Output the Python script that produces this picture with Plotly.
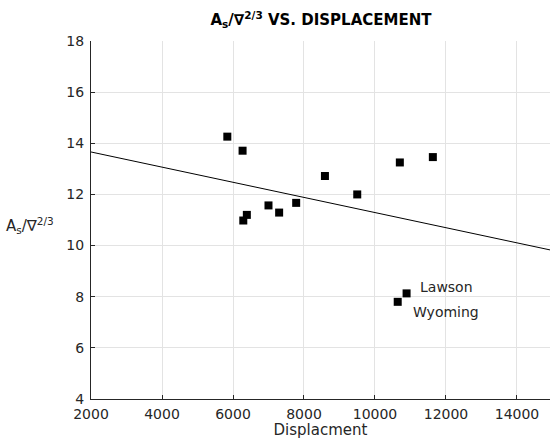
import plotly.graph_objects as go

# Ship displacement vs. wetted-surface coefficient
displacement = [5840, 6270, 6290, 6390, 7000, 7300, 7780, 8590, 9500, 10700, 11630, 10640, 10890]
surface_ratio = [14.26, 13.71, 10.98, 11.20, 11.57, 11.29, 11.67, 12.72, 12.00, 13.25, 13.46, 7.80, 8.13]

# Reference trend line
trend_x = [2000, 15000]
trend_y = [13.66, 9.81]

# Named ships (x, y, label)
named_x = [10890, 10640]
named_y = [8.13, 7.80]
named_text = ["Lawson", "Wyoming"]

x_ticks = [2000, 4000, 6000, 8000, 10000, 12000, 14000]
x_tick_labels = ["2000", "4000", "6000", "8000", "10000", "12000", "14000"]
y_ticks = [4, 6, 8, 10, 12, 14, 16, 18]

FONT = "DejaVu Sans"
INK = "#262626"
GRID = "#e3e3e3"

fig = go.Figure()
fig.add_trace(go.Scatter(x=trend_x, y=trend_y, mode="lines",
                         line=dict(color="black", width=1), showlegend=False))
fig.add_trace(go.Scatter(x=displacement, y=surface_ratio, mode="markers",
                         marker=dict(symbol="square", size=8, color="black"),
                         showlegend=False))

shifts = [(11, 6), (13, -10)]
for xv, yv, txt, (dx, dy) in zip(named_x, named_y, named_text, shifts):
    fig.add_annotation(x=xv, y=yv, text=txt, showarrow=False,
                       xanchor="left", yanchor="middle", xshift=dx, yshift=dy,
                       font=dict(family=FONT, size=14, color=INK))

# horizontal y-axis label, placed in pixels relative to the plot area
plot_w = 550 - 91
plot_h = 439 - 41 - 40
fig.add_annotation(x=(4 - 91) / plot_w, y=(439 - 40 - 226) / plot_h,
                   xref="paper", yref="paper", text="A<sub>s</sub>/∇<sup>2/3</sup>",
                   showarrow=False, xanchor="left", yanchor="middle",
                   font=dict(family=FONT, size=15, color=INK))

fig.update_layout(
    width=550, height=439,
    margin=dict(l=91, r=0, t=41, b=40),
    plot_bgcolor="white", paper_bgcolor="white",
    font=dict(family=FONT, size=14, color=INK),
    title=dict(text="<b>A<sub>s</sub>/∇<sup>2/3</sup> VS. DISPLACEMENT</b>",
               x=321 / 550, xanchor="center", y=1 - 20 / 439, yanchor="middle",
               font=dict(family=FONT, size=15, color="black")),
    xaxis=dict(range=[2000, 14930], tickvals=x_ticks, ticktext=x_tick_labels,
               ticks="inside", ticklen=4, ticklabelstandoff=2,
               tickcolor=INK, showline=True, linecolor=INK, linewidth=1,
               showgrid=True, gridcolor=GRID, gridwidth=1, zeroline=False,
               title=dict(text="Displacment", standoff=2,
                          font=dict(family=FONT, size=15, color=INK))),
    yaxis=dict(range=[4, 18], tickvals=y_ticks, ticks="inside", ticklen=4,
               ticklabelstandoff=3,
               tickcolor=INK, showline=True, linecolor=INK, linewidth=1,
               showgrid=True, gridcolor=GRID, gridwidth=1, zeroline=False),
)

fig.write_html("out.html")
